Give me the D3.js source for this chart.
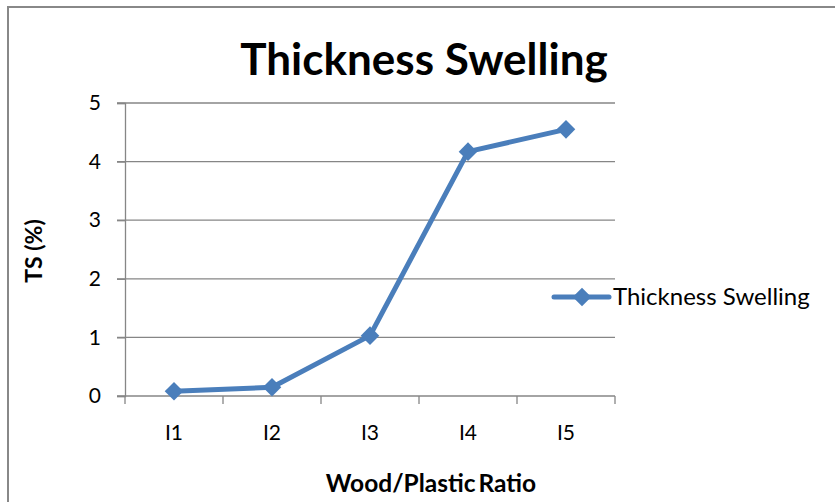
<!DOCTYPE html>
<html>
<head>
<meta charset="utf-8">
<script src="https://cdn.jsdelivr.net/npm/d3@7"></script>
<style>
  html, body { margin: 0; padding: 0; background: #fff; }
  svg { display: block; }
  text { font-family: Lato, "Open Sans", sans-serif; fill: #000; }
</style>
</head>
<body>
<svg id="chart" width="835" height="502"></svg>
<script>
// Thickness swelling by wood/plastic ratio
const categories = ["I1", "I2", "I3", "I4", "I5"];
const tsValues = [0.08, 0.15, 1.03, 4.17, 4.55];
const yTicks = [0, 1, 2, 3, 4, 5];
const seriesName = "Thickness Swelling";

const svg = d3.select("#chart");
const W = 835, H = 502;
const plot = { left: 125, right: 615, top: 103, bottom: 396 };
const blue = "#4a7ebb";
const grid = "#868686";

// outer chart frame
svg.append("rect")
  .attr("x", 8).attr("y", 7)
  .attr("width", W + 10).attr("height", H + 10)
  .attr("fill", "none").attr("stroke", "#888").attr("stroke-width", 2);

const x = d3.scaleBand().domain(categories).range([plot.left, plot.right]).padding(0);
const y = d3.scaleLinear().domain([0, 5]).range([plot.bottom, plot.top]);

// horizontal gridlines
svg.append("g").selectAll("line").data(yTicks.filter(d => d > 0)).join("line")
  .attr("x1", plot.left - 8).attr("x2", plot.right)
  .attr("y1", d => y(d)).attr("y2", d => y(d))
  .attr("stroke", grid).attr("stroke-width", 1.3);

// y axis
const yAxis = svg.append("g").attr("transform", `translate(${plot.left},0)`)
  .call(d3.axisLeft(y).tickValues(yTicks).tickSize(8).tickPadding(16).tickFormat(d3.format("d")));
yAxis.select(".domain").attr("stroke", grid).attr("stroke-width", 1.3);
yAxis.selectAll(".tick line").attr("stroke", grid).attr("stroke-width", 1.3);
yAxis.selectAll(".tick text").attr("font-size", 21).attr("font-family", "Lato, sans-serif").attr("fill", "#000");

// x axis with ticks on category boundaries
const xAxisG = svg.append("g").attr("transform", `translate(0,${plot.bottom})`);
xAxisG.append("line")
  .attr("x1", plot.left - 8).attr("x2", plot.right)
  .attr("y1", 0).attr("y2", 0)
  .attr("stroke", grid).attr("stroke-width", 1.3);
const boundaries = categories.map(c => x(c)).concat([x(categories[categories.length - 1]) + x.bandwidth()]);
xAxisG.selectAll("line.tk").data(boundaries).join("line").attr("class", "tk")
  .attr("x1", d => d).attr("x2", d => d).attr("y1", 0).attr("y2", 8)
  .attr("stroke", grid).attr("stroke-width", 1.3);
xAxisG.selectAll("text").data(categories).join("text")
  .attr("x", d => x(d) + x.bandwidth() / 2).attr("y", 44)
  .attr("text-anchor", "middle").attr("font-size", 21)
  .text(d => d);

// series line
const line = d3.line().x((d, i) => x(categories[i]) + x.bandwidth() / 2).y(d => y(d));
svg.append("path").datum(tsValues)
  .attr("d", line).attr("fill", "none")
  .attr("stroke", blue).attr("stroke-width", 5).attr("stroke-linejoin", "round").attr("stroke-linecap", "round");

const diamond = d3.symbol().type(d3.symbolDiamond2).size(220);
svg.append("g").selectAll("path").data(tsValues).join("path")
  .attr("transform", (d, i) => `translate(${x(categories[i]) + x.bandwidth() / 2},${y(d)})`)
  .attr("d", diamond).attr("fill", blue);

// title
svg.append("text").attr("x", 424).attr("y", 75).attr("text-anchor", "middle")
  .attr("font-size", 44).attr("font-weight", "bold").text("Thickness Swelling");

// axis titles
svg.append("text").attr("transform", "translate(42,251) rotate(-90)").attr("text-anchor", "middle")
  .attr("font-size", 23).attr("font-weight", "bold").text("TS (%)");
svg.append("text").attr("x", 431).attr("y", 492).attr("text-anchor", "middle")
  .attr("font-size", 24.5).attr("font-weight", "bold").attr("word-spacing", -3).text("Wood/Plastic Ratio");

// legend
const lg = svg.append("g").attr("transform", "translate(554,297)");
lg.append("line").attr("x1", 0).attr("x2", 55).attr("y1", 0).attr("y2", 0)
  .attr("stroke", blue).attr("stroke-width", 5).attr("stroke-linecap", "round");
lg.append("path").attr("transform", "translate(28,0)").attr("d", diamond).attr("fill", blue);
lg.append("text").attr("x", 59).attr("y", 8).attr("font-size", 24).text(seriesName);
</script>
</body>
</html>
